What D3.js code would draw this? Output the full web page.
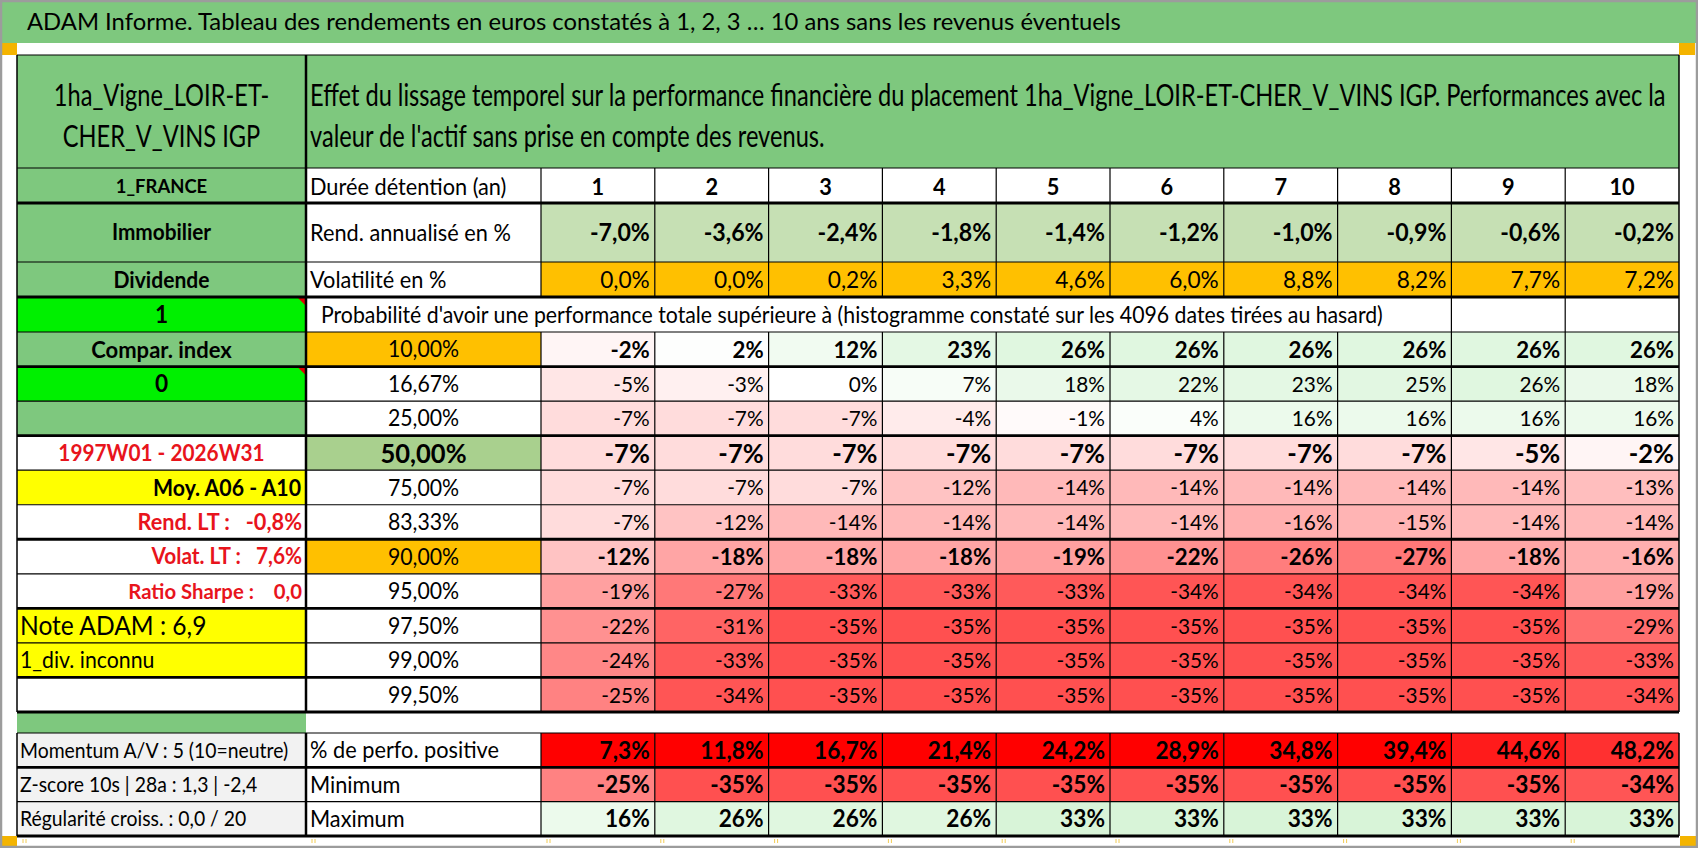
<!DOCTYPE html>
<html>
  <head>
    <meta charset="utf-8">
    <title>ADAM Informe - 1ha_Vigne_LOIR-ET-CHER_V_VINS IGP</title>
    <script src="https://d3js.org/d3.v7.min.js"></script>
    <style>
      body { margin: 0; background: #fff; }
      text { white-space: pre; }
    </style>
  </head>
  <body>
    <div id="chart"></div>
    <script>
      var durations = [1, 2, 3, 4, 5, 6, 7, 8, 9, 10];
      var rendAnnualise = [-7.0, -3.6, -2.4, -1.8, -1.4, -1.2, -1.0, -0.9, -0.6, -0.2];
      var volatilite = [0.0, 0.0, 0.2, 3.3, 4.6, 6.0, 8.8, 8.2, 7.7, 7.2];

      var percentiles = ["10,00%", "16,67%", "25,00%", "50,00%", "75,00%", "83,33%",
                         "90,00%", "95,00%", "97,50%", "99,00%", "99,50%"];
      var q10  = [-2, 2, 12, 23, 26, 26, 26, 26, 26, 26];
      var q167 = [-5, -3, 0, 7, 18, 22, 23, 25, 26, 18];
      var q25  = [-7, -7, -7, -4, -1, 4, 16, 16, 16, 16];
      var q50  = [-7, -7, -7, -7, -7, -7, -7, -7, -5, -2];
      var q75  = [-7, -7, -7, -12, -14, -14, -14, -14, -14, -13];
      var q833 = [-7, -12, -14, -14, -14, -14, -16, -15, -14, -14];
      var q90  = [-12, -18, -18, -18, -19, -22, -26, -27, -18, -16];
      var q95  = [-19, -27, -33, -33, -33, -34, -34, -34, -34, -19];
      var q975 = [-22, -31, -35, -35, -35, -35, -35, -35, -35, -29];
      var q99  = [-24, -33, -35, -35, -35, -35, -35, -35, -35, -33];
      var q995 = [-25, -34, -35, -35, -35, -35, -35, -35, -35, -34];
      var quantileRows = [q10, q167, q25, q50, q75, q833, q90, q95, q975, q99, q995];

      var pctPositive = [7.3, 11.8, 16.7, 21.4, 24.2, 28.9, 34.8, 39.4, 44.6, 48.2];
      var minimum = [-25, -35, -35, -35, -35, -35, -35, -35, -35, -34];
      var maximum = [16, 26, 26, 26, 33, 33, 33, 33, 33, 33];

      var titleText = "ADAM Informe. Tableau des rendements en euros constatés à 1, 2, 3 … 10 ans sans les revenus éventuels";
      var headerLines = ["Effet du lissage temporel sur la performance financière du placement 1ha_Vigne_LOIR-ET-CHER_V_VINS IGP. Performances avec la",
                         "valeur de l'actif sans prise en compte des revenus."];
      var leftHeaderLines = ["1ha_Vigne_LOIR-ET-", "CHER_V_VINS IGP"];
      var probText = "Probabilité d'avoir une performance totale supérieure à (histogramme constaté sur les 4096 dates tirées au hasard)";
      var rowLabels = ["Durée détention (an)", "Rend. annualisé en %", "Volatilité en %"];
      var bottomRowLabels = ["% de perfo. positive", "Minimum", "Maximum"];
      var leftLabels = ["1_FRANCE", "Immobilier", "Dividende", "1", "Compar. index", "0", "",
                        "1997W01 - 2026W31", "Moy. A06 - A10", "Rend. LT :   -0,8%", "Volat. LT :   7,6%",
                        "Ratio Sharpe :    0,0", "Note ADAM : 6,9", "1_div. inconnu", ""];
      var bottomLeftLabels = ["Momentum A/V : 5 (10=neutre)", "Z-score 10s | 28a : 1,3 | -2,4", "Régularité croiss. : 0,0 / 20"];

      // ---- page ----
      var W = 1698, H = 848;
      var FONT = "Lato, 'Open Sans', 'DejaVu Sans', sans-serif";
      var GREEN = "#7ec87e", BRIGHT = "#00f000", ORANGE = "#ffc000", YELLOW = "#ffff00",
          LIGHTGREEN = "#c6e0b4", MIDGREEN = "#a9d08e", GREY = "#f2f2f2", RED = "#e8141c";

      var svg = d3.select("#chart").append("svg").attr("width", W).attr("height", H)
        .style("display", "block");

      var fr = d3.formatLocale({decimal: ",", thousands: " ", grouping: [3],
                                currency: ["", " €"], minus: "-", percent: "%"});
      var f1 = fr.format(".1f"), f0 = fr.format(".0f");

      function measure(str, size, weight) {
        var t = svg.append("text").attr("font-family", FONT).attr("font-size", size)
          .attr("font-weight", weight).text(str);
        var w = t.node().getComputedTextLength();
        t.remove();
        return w;
      }
      // the screenshot is horizontally condensed: squeeze text to the widths seen
      var titleSquash = 1094 / measure(titleText, 23.5, 400);
      var headSquash = 1356 / measure(headerLines[0], 30, 400);
      var bodySquash = headSquash * 1.2;

      function label(g, x, cy, str, o) {
        var size = o.size || 23;
        return g.append("text")
          .attr("transform", "translate(" + x + "," + (cy + 0.36 * size) + ") scale(" + (o.squash || bodySquash) + ",1)")
          .attr("text-anchor", o.anchor || "start")
          .attr("font-family", FONT)
          .attr("font-size", size)
          .attr("font-weight", o.weight || 400)
          .attr("fill", o.fill || "#000")
          .text(str);
      }

      // ---- geometry ----
      var L0 = 17, L1 = 306, L2 = 541, R = 1679;
      var x = d3.scaleBand().domain(durations).range([L2, R]);
      var topEdges = [55, 168, 203, 262, 297, 332];          // header, durée, rend, volat, proba
      var yQ = d3.scaleBand().domain(percentiles).range([332, 712]);
      var yB = d3.scaleBand().domain(bottomRowLabels).range([733, 836]);

      var redScale = d3.scaleLinear().domain([-35, 0, 40])
        .range(["#ff5050", "#ffffff", "#d0f2d0"]).clamp(true);
      var posScale = d3.scaleLinear().domain([0, 40, 50, 100])
        .range(["#ff0000", "#ff0000", "#ff3a3a", "#ffffff"]).clamp(true);

      // title bar and corner marks
      svg.append("rect").attr("x", 0).attr("y", 0).attr("width", W).attr("height", 43).attr("fill", GREEN);
      label(svg, 27, 21.5, titleText, {size: 23.5, squash: titleSquash});
      [[0, 43, 17, 12], [R, 43, 16, 12], [0, 836, 17, 12], [R + 1, 836, 18, 12]].forEach(function (s) {
        svg.append("rect").attr("x", s[0]).attr("y", s[1]).attr("width", s[2]).attr("height", s[3]).attr("fill", "#f4b400");
      });

      var cells = svg.append("g");
      var texts = svg.append("g");
      var lines = svg.append("g");

      function cell(x0, y0, w, h, fill) {
        cells.append("rect").attr("x", x0).attr("y", y0).attr("width", w).attr("height", h).attr("fill", fill);
      }

      // header row
      cell(L0, 55, R - L0, 113, GREEN);
      label(texts, (L0 + L1) / 2, 95, leftHeaderLines[0], {size: 30, anchor: "middle", squash: headSquash});
      label(texts, (L0 + L1) / 2, 136, leftHeaderLines[1], {size: 30, anchor: "middle", squash: headSquash});
      label(texts, 310, 95, headerLines[0], {size: 30, squash: headSquash});
      label(texts, 310, 136, headerLines[1], {size: 30, squash: headSquash});

      // left column (top rows + quantile rows)
      var leftRows = [];
      for (var i = 1; i < 5; i++) leftRows.push([topEdges[i], topEdges[i + 1]]);
      percentiles.forEach(function (p) { leftRows.push([yQ(p), yQ(p) + yQ.bandwidth()]); });
      var leftStyle = [
        {fill: GREEN, weight: 700, size: 19.5, anchor: "middle"},
        {fill: GREEN, weight: 700, size: 22, anchor: "middle"},
        {fill: GREEN, weight: 700, size: 22.3, anchor: "middle"},
        {fill: BRIGHT, weight: 700, size: 24, anchor: "middle", tri: true},
        {fill: GREEN, weight: 700, size: 23.3, anchor: "middle"},
        {fill: BRIGHT, weight: 700, size: 24, anchor: "middle", tri: true},
        {fill: GREEN},
        {fill: "#fff", weight: 700, size: 22, anchor: "middle", color: RED},
        {fill: YELLOW, weight: 700, size: 22.5, anchor: "end", pad: 5},
        {fill: "#fff", weight: 700, size: 23, anchor: "end", color: RED},
        {fill: "#fff", weight: 700, size: 22, anchor: "end", color: RED},
        {fill: "#fff", weight: 700, size: 21.5, anchor: "end", color: RED},
        {fill: YELLOW, weight: 400, size: 26, anchor: "start"},
        {fill: YELLOW, weight: 400, size: 22.5, anchor: "start"},
        {fill: "#fff"}
      ];
      leftRows.forEach(function (r, i) {
        var s = leftStyle[i];
        cell(L0, r[0], L1 - L0, r[1] - r[0], s.fill);
        if (s.tri) {
          cells.append("path").attr("d", "M" + (L1 - 9) + "," + r[0] + "L" + L1 + "," + r[0] + "L" + L1 + "," + (r[0] + 9) + "Z")
            .attr("fill", "#e00000");
        }
        if (leftLabels[i]) {
          var tx = s.anchor === "middle" ? (L0 + L1) / 2 : s.anchor === "end" ? L1 - (s.pad || 4) : L0 + 3;
          label(texts, tx, (r[0] + r[1]) / 2, leftLabels[i], {size: s.size, weight: s.weight, anchor: s.anchor, fill: s.color});
        }
      });
      cell(L0, 712, L1 - L0, 21, GREEN);

      // label column of the top rows
      rowLabels.forEach(function (t, i) {
        cell(L1, topEdges[i + 1], L2 - L1, topEdges[i + 2] - topEdges[i + 1], "#fff");
        label(texts, L1 + 4, (topEdges[i + 1] + topEdges[i + 2]) / 2 + (i === 0 ? 1 : 0), t, {size: 23});
      });
      label(texts, 321, (297 + 332) / 2, probText, {size: 22.5});

      // duration header numbers
      texts.selectAll(".dur").data(durations).join("g").each(function (d) {
        label(d3.select(this), x(d) + x.bandwidth() / 2, (168 + 203) / 2 + 1, String(d), {size: 23, weight: 700, anchor: "middle"});
      });

      // rendement annualisé row
      cells.selectAll(".rend").data(rendAnnualise).join("rect")
        .attr("x", function (d, i) { return x(durations[i]); }).attr("y", 203)
        .attr("width", x.bandwidth()).attr("height", 59).attr("fill", LIGHTGREEN);
      rendAnnualise.forEach(function (v, i) {
        label(texts, x(durations[i]) + x.bandwidth() - 5, 232.5, f1(v) + "%", {size: 24.5, weight: 700, anchor: "end"});
      });

      // volatilité row
      cells.selectAll(".vol").data(volatilite).join("rect")
        .attr("x", function (d, i) { return x(durations[i]); }).attr("y", 262)
        .attr("width", x.bandwidth()).attr("height", 35).attr("fill", ORANGE);
      volatilite.forEach(function (v, i) {
        label(texts, x(durations[i]) + x.bandwidth() - 5, 279.5, f1(v) + "%", {size: 24, anchor: "end"});
      });

      // quantile rows
      var labelFill = {"10,00%": ORANGE, "50,00%": MIDGREEN, "90,00%": ORANGE};
      var boldRows = {"10,00%": 1, "50,00%": 1, "90,00%": 1};
      percentiles.forEach(function (p, r) {
        var y0 = yQ(p), cy = y0 + yQ.bandwidth() / 2;
        var big = p === "50,00%";
        cell(L1, y0, L2 - L1, yQ.bandwidth(), labelFill[p] || "#fff");
        label(texts, (L1 + L2) / 2, cy, p, {size: big ? 27 : 22.5, weight: big ? 700 : 400, anchor: "middle"});
        cells.selectAll(null).data(quantileRows[r]).join("rect")
          .attr("x", function (d, i) { return x(durations[i]); }).attr("y", y0)
          .attr("width", x.bandwidth()).attr("height", yQ.bandwidth())
          .attr("fill", function (d) { return redScale(d); });
        quantileRows[r].forEach(function (v, i) {
          label(texts, x(durations[i]) + x.bandwidth() - 5, cy, f0(v) + "%",
            {size: big ? 27 : (boldRows[p] ? 23.5 : 22), weight: boldRows[p] ? 700 : 400, anchor: "end"});
        });
      });

      // bottom block
      var bottomData = [pctPositive, minimum, maximum];
      bottomRowLabels.forEach(function (t, r) {
        var y0 = yB(t), cy = y0 + yB.bandwidth() / 2;
        cell(L0, y0, L1 - L0, yB.bandwidth(), GREY);
        label(texts, L0 + 3, cy, bottomLeftLabels[r], {size: 20.5});
        cell(L1, y0, L2 - L1, yB.bandwidth(), "#fff");
        label(texts, L1 + 4, cy, t, {size: 23});
        cells.selectAll(null).data(bottomData[r]).join("rect")
          .attr("x", function (d, i) { return x(durations[i]); }).attr("y", y0)
          .attr("width", x.bandwidth()).attr("height", yB.bandwidth())
          .attr("fill", function (d) { return r === 0 ? posScale(d) : redScale(d); });
        bottomData[r].forEach(function (v, i) {
          label(texts, x(durations[i]) + x.bandwidth() - 5, cy, (r === 0 ? f1(v) : f0(v)) + "%",
            {size: 24, weight: 700, anchor: "end"});
        });
      });

      // ---- borders ----
      function hline(y, x0, x1, w) {
        lines.append("line").attr("x1", x0).attr("x2", x1).attr("y1", y).attr("y2", y)
          .attr("stroke", "#000").attr("stroke-width", w);
      }
      function vline(xx, y0, y1, w) {
        lines.append("line").attr("x1", xx).attr("x2", xx).attr("y1", y0).attr("y2", y1)
          .attr("stroke", "#000").attr("stroke-width", w);
      }
      var THIN = 1.2, THICK = 2.8;
      [[55, THIN], [168, THIN], [203, THICK], [262, THIN], [297, THICK], [332, THIN]].forEach(function (h) {
        hline(h[0], L0, R, h[1]);
      });
      var thickQ = {"16,67%": 1, "50,00%": 1, "90,00%": 1, "97,50%": 1, "99,50%": 1};
      percentiles.forEach(function (p) {
        if (p !== "10,00%") hline(yQ(p), L0, R, thickQ[p] ? THICK : THIN);
      });
      hline(yQ.range()[1], L0, R, THICK);
      hline(733, L0, R, THIN);
      hline(yB("Minimum"), L0, R, THICK);
      hline(yB("Maximum"), L0, R, THIN);
      hline(836, L0, R, THICK);

      [[55, 712], [733, 836]].forEach(function (s) {
        vline(L0, s[0], s[1], 1.5);
        vline(L1, s[0], s[1], 2.5);
        vline(R, s[0], s[1], 1.5);
      });
      [[168, 297], [332, 712], [733, 836]].forEach(function (s) {
        vline(L2, s[0], s[1], THIN);
        durations.slice(1).forEach(function (d) { vline(x(d), s[0], s[1], THIN); });
      });
      vline(x(9), 297, 332, THIN);
      vline(x(10), 297, 332, THIN);

      // small marks under the table
      [L0, L1].concat(durations.map(function (d) { return x(d); })).forEach(function (xx) {
        [6, 9].forEach(function (o) {
          lines.append("line").attr("x1", xx + o).attr("x2", xx + o).attr("y1", 839).attr("y2", 843)
            .attr("stroke", "#f2cc55").attr("stroke-width", 1);
        });
      });

      // outer frame
      svg.append("rect").attr("x", 1).attr("y", 1).attr("width", W - 2).attr("height", H - 2)
        .attr("fill", "none").attr("stroke", "#9c9c9c").attr("stroke-width", 2.5);
    </script>
  </body>
</html>
